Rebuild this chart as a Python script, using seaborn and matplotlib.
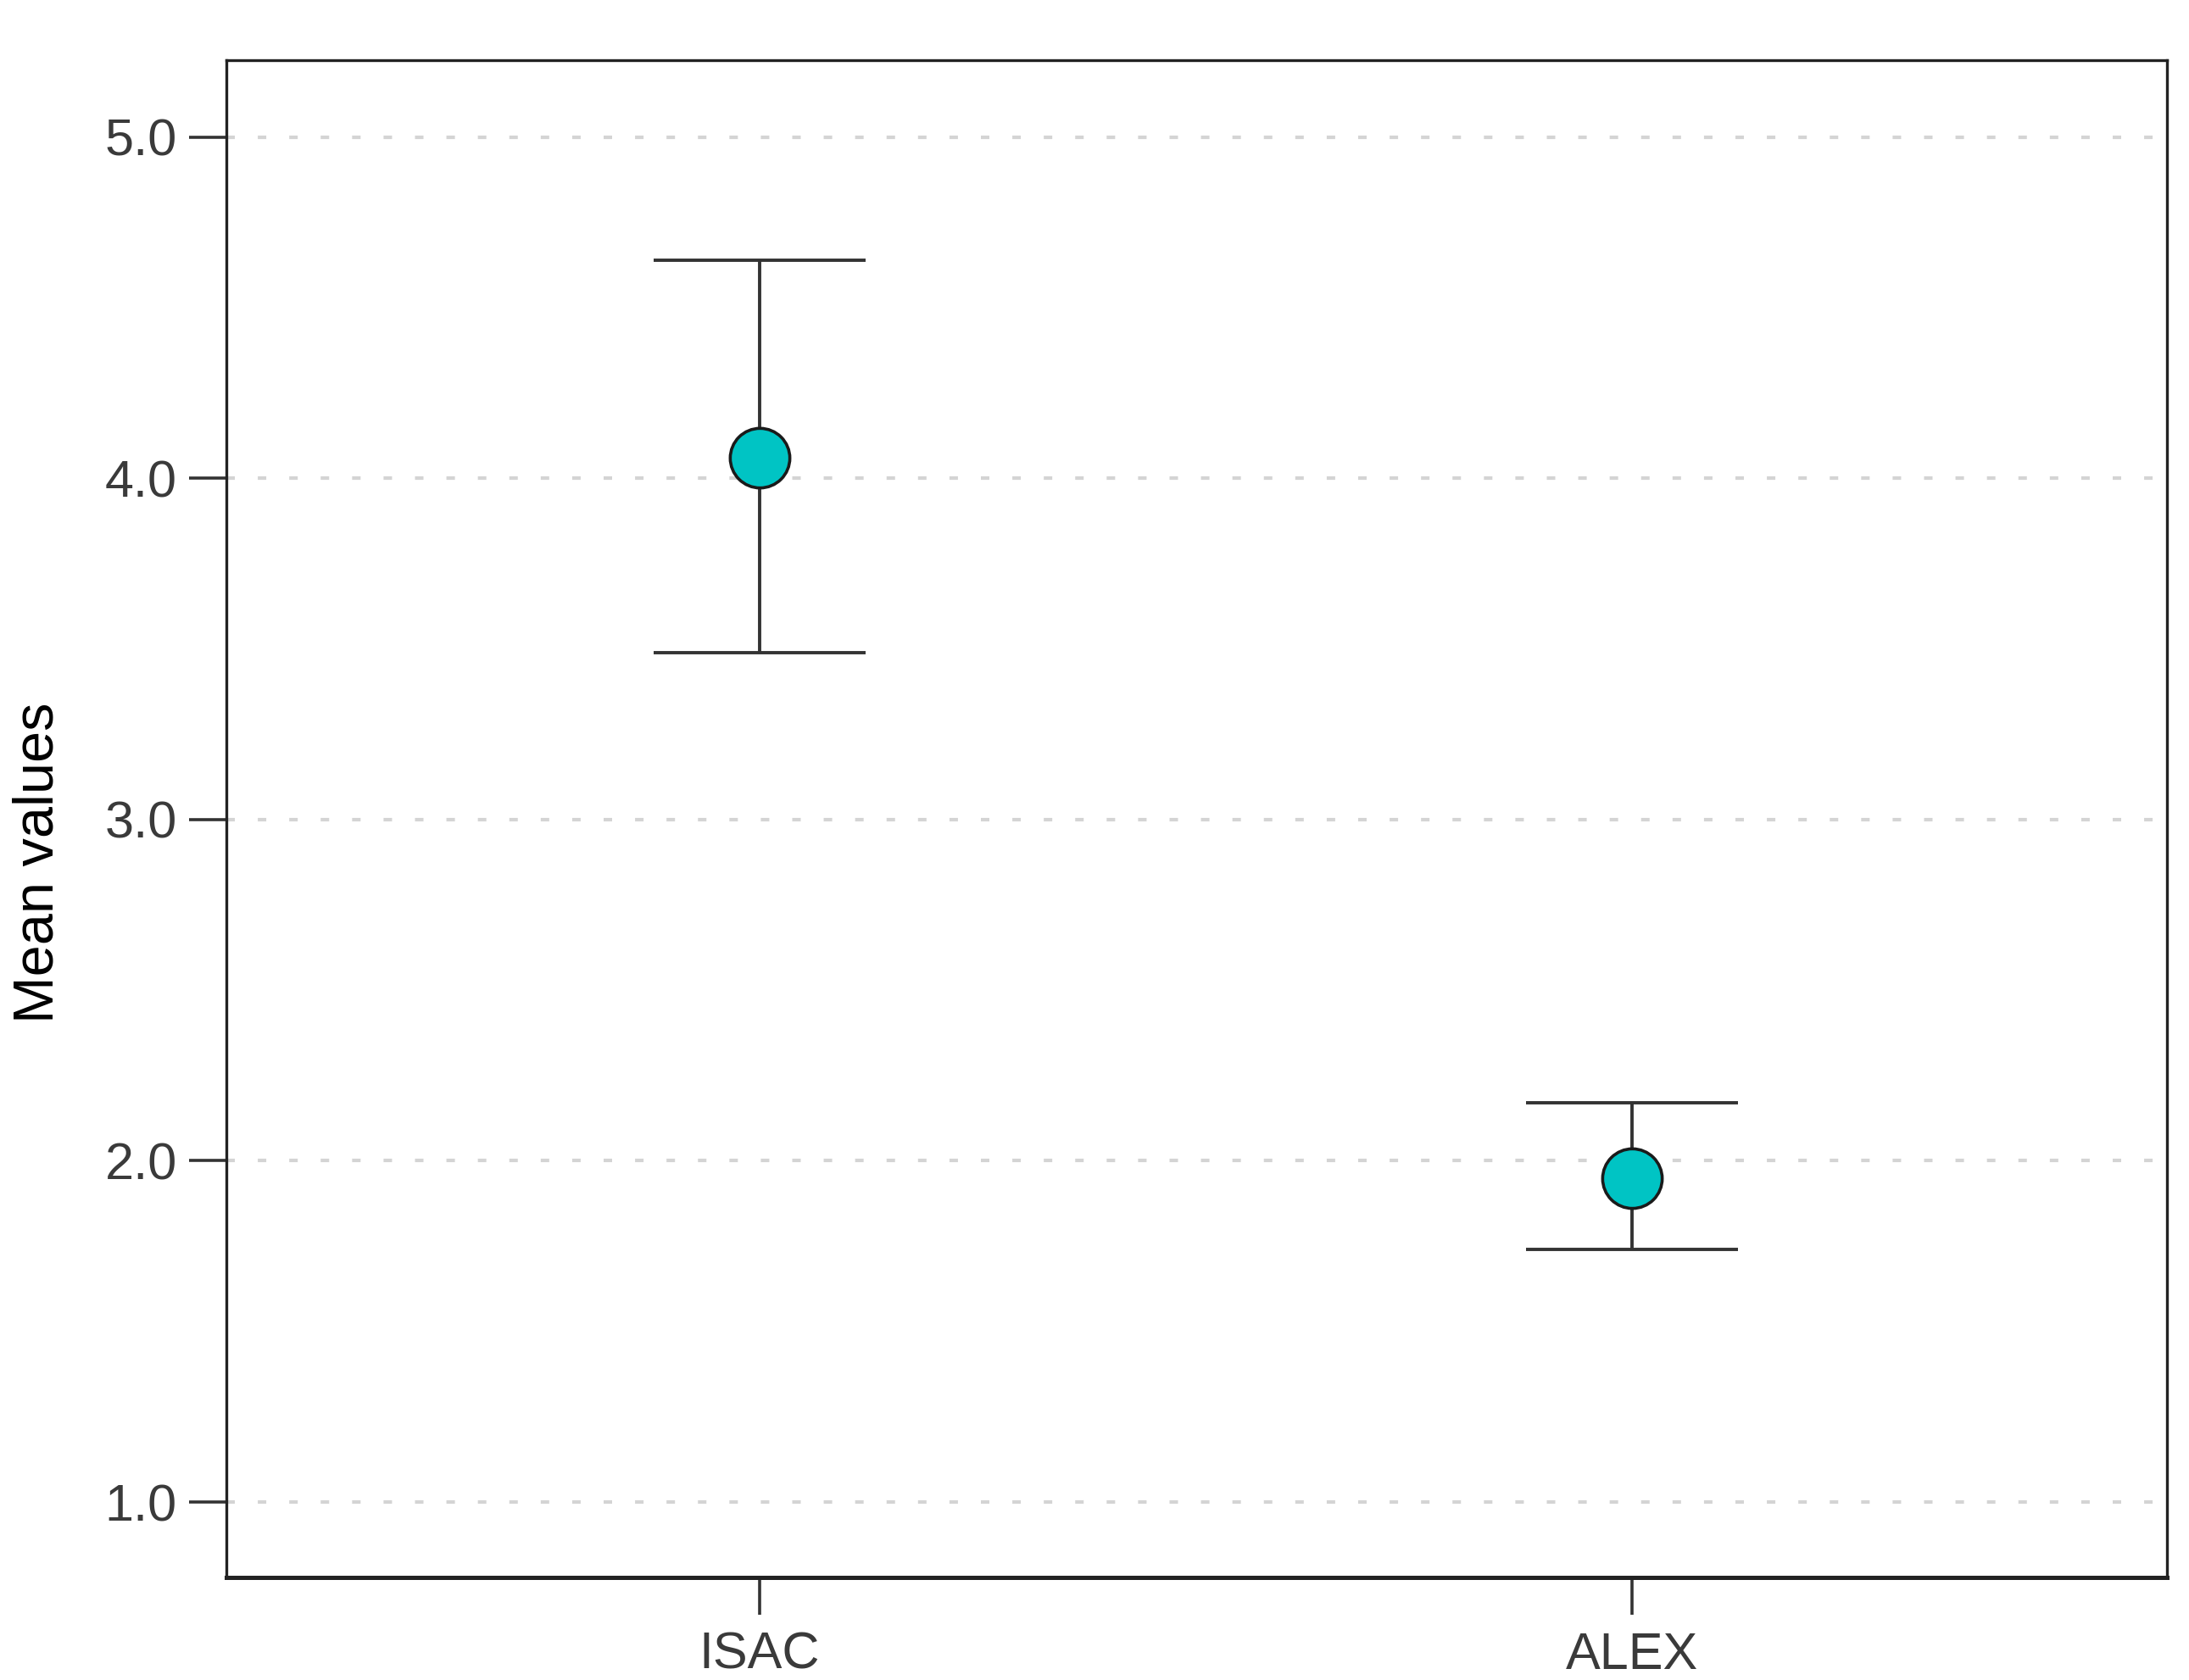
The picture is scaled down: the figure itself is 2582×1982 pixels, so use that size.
import matplotlib
matplotlib.use("Agg")
import matplotlib.pyplot as plt
import seaborn as sns
import numpy as np
import pandas as pd

groups = ["ISAC", "ALEX"]
means = [4.06, 1.95]
ci_low = [3.49, 1.74]
ci_high = [4.64, 2.17]
yticks = [1.0, 2.0, 3.0, 4.0, 5.0]

sns.set_style("white")
plt.rcParams["font.family"] = ["Liberation Sans", "DejaVu Sans"]

df = pd.DataFrame({"group": groups, "mean": means})

fig = plt.figure(figsize=(12.91, 9.91), dpi=200)
ax = fig.add_axes([0.1034, 0.0610, 0.8865, 0.9032])

lower = np.array(means) - np.array(ci_low)
upper = np.array(ci_high) - np.array(means)
ax.errorbar(df["group"], df["mean"], yerr=[lower, upper], fmt="none",
            ecolor="#333333", elinewidth=1.4, capsize=45, capthick=1.4, zorder=2)
sns.scatterplot(data=df, x="group", y="mean", ax=ax, s=640, color="#00C4C4",
                edgecolor="#1a1a1a", linewidth=1.3, zorder=3, legend=False)

ax.set_xlim(-0.611, 1.613)
ax.set_ylim(0.779, 5.225)
ax.set_yticks(yticks)
ax.set_yticklabels([f"{t:.1f}" for t in yticks])
ax.yaxis.grid(True, color="#d4d4d4", linewidth=1.5, linestyle=(0, (2.4, 6.5)))
ax.set_axisbelow(True)

ax.set_xlabel("")
ax.set_ylabel("Mean values", fontsize=24, color="black")
ax.yaxis.set_label_coords(-0.083, 0.471)
ax.tick_params(axis="both", which="major", direction="out", length=16, width=1.3,
               color="#333333", labelsize=22, labelcolor="#3a3a3a", pad=5,
               left=True, bottom=True)
ax.tick_params(axis="x", pad=7)

for side in ["top", "right", "left"]:
    ax.spines[side].set_color("#222222")
    ax.spines[side].set_linewidth(1.2)
ax.spines["bottom"].set_color("#222222")
ax.spines["bottom"].set_linewidth(1.8)

fig.savefig("out.png", dpi=200)
plt.close(fig)
